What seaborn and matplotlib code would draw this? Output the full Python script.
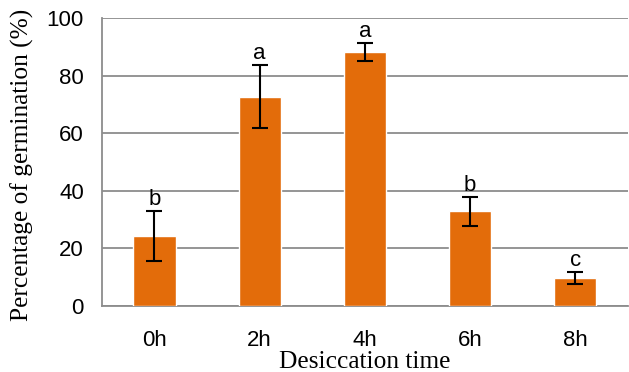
import numpy as np
import pandas as pd
import matplotlib.pyplot as plt
import seaborn as sns

times = ['0h', '2h', '4h', '6h', '8h']
germination = [24.2, 72.7, 88.2, 32.9, 9.8]
err = [8.7, 10.9, 3.1, 5.1, 2.2]
letters = ['b', 'a', 'a', 'b', 'c']

df = pd.DataFrame({'time': times, 'germ': germination})

sns.set_style('white')
grid_col = '#8c8c8c'

fig = plt.figure(figsize=(6.29, 3.72), dpi=100)
ax = fig.add_axes([0.162, 0.177, 0.836, 0.775])

sns.barplot(data=df, x='time', y='germ', color='#E36C0A', saturation=1,
            width=0.4, errorbar=None, ax=ax, zorder=3)
ax.errorbar(np.arange(len(times)), germination, yerr=err, fmt='none',
            ecolor='black', elinewidth=1.5, capsize=5.5, capthick=1.5, zorder=4)

# significance letters
for i, (v, e, l) in enumerate(zip(germination, err, letters)):
    ax.text(i, v + e + 0.3, l, ha='center', va='bottom', fontsize=16,
            family='Liberation Sans', color='black')

ax.set_ylim(0, 100)
ax.set_xlim(-0.5, 4.5)
ax.set_yticks([0, 20, 40, 60, 80, 100])
ax.yaxis.grid(True, color=grid_col, linewidth=1.3, zorder=0)
ax.set_axisbelow(True)

# tick marks between categories
ax.set_xticks(np.arange(-0.5, 5, 1), minor=True)
ax.tick_params(axis='x', which='minor', length=8, width=1.3, color=grid_col, direction='out')
ax.tick_params(axis='x', which='major', length=0, pad=17, labelsize=16, labelcolor='black')
ax.tick_params(axis='y', length=7, width=1.3, color=grid_col, direction='out', pad=6,
               labelsize=16, labelcolor='black')
for lab in ax.get_xticklabels() + ax.get_yticklabels():
    lab.set_family('Liberation Sans')

for s in ['top', 'right']:
    ax.spines[s].set_visible(False)
for s in ['left', 'bottom']:
    ax.spines[s].set_color(grid_col)
    ax.spines[s].set_linewidth(1.3)

ax.set_xlabel('Desiccation time', family='Liberation Serif', fontsize=18.3, labelpad=0.5,
              color='black')
ax.set_ylabel('Percentage of germination (%)', family='Liberation Serif', fontsize=18.3,
              color='black')
ax.yaxis.set_label_coords(-0.13, 0.49)

fig.savefig('out.png', dpi=100)
